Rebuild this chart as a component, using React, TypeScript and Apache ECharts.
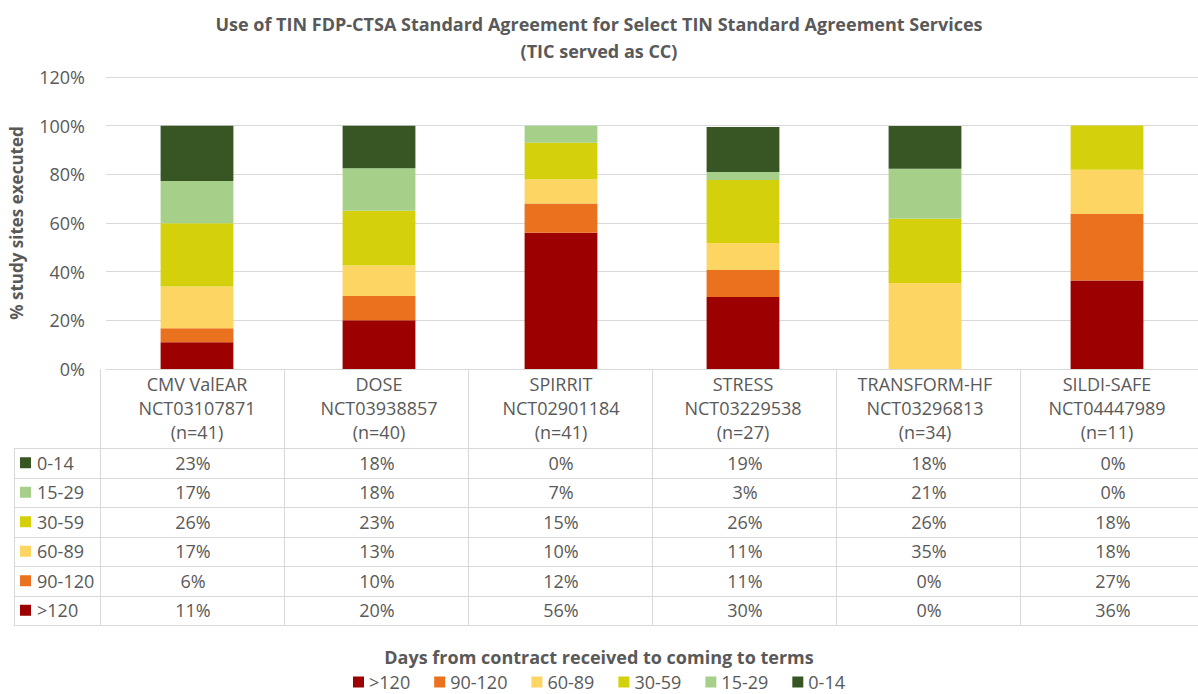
import React, { useEffect, useRef } from "react";
import * as echarts from "echarts";

const categories = ["CMV ValEAR", "DOSE", "SPIRRIT", "STRESS", "TRANSFORM-HF", "SILDI-SAFE"];
const nctIds = ["NCT03107871", "NCT03938857", "NCT02901184", "NCT03229538", "NCT03296813", "NCT04447989"];
const sampleSizes = [41, 40, 41, 27, 34, 11];

const bucketNames = [">120", "90-120", "60-89", "30-59", "15-29", "0-14"];
const bucketColors = ["#9C0000", "#EA711E", "#FDD562", "#D4D00B", "#A6D08A", "#375623"];

const over120 = [11, 20, 56, 29.6, 0, 36.4];
const d90to120 = [5.7, 10, 12, 11.1, 0, 27.3];
const d60to89 = [17.2, 12.5, 10, 11.1, 35.3, 18.2];
const d30to59 = [26, 22.5, 15, 25.9, 26.4, 18.2];
const d15to29 = [17.4, 17.5, 7, 3.3, 20.6, 0];
const d0to14 = [22.7, 17.5, 0, 18.5, 17.6, 0];

const seriesValues = [over120, d90to120, d60to89, d30to59, d15to29, d0to14];

const yTicks = [0, 20, 40, 60, 80, 100, 120];

const chartTitle = "Use of TIN FDP-CTSA Standard Agreement for Select TIN Standard Agreement Services\n(TIC served as CC)";
const yAxisTitle = "% study sites executed";
const legendTitle = "Days from contract received to coming to terms";

const W = 1198;
const H = 694;
const FONT = "Open Sans";
const TEXT = "#595959";
const LINE = "#D9D9D9";
const FS = 18;

export default function App() {
  const ref = useRef<HTMLDivElement>(null);
  useEffect(() => {
    if (!ref.current) return;
    const chart = echarts.init(ref.current, undefined, { renderer: "svg" });
    const gridLeft = 101;
    const gridRight = -7;
    const gridTop = 77;
    const gridBottomY = 369;
    const colW = (W - gridLeft - gridRight) / categories.length;
    const headerBottom = 448;
    const rowH = 29.5;
    const tableLeft = 14;

    const graphics: any[] = [];
    for (let i = 0; i < categories.length; i++) {
      const x = Math.round(gridLeft + i * colW) - 0.5;
      graphics.push({
        type: "line",
        shape: { x1: x, y1: gridBottomY, x2: x, y2: headerBottom + rowH * bucketNames.length },
        style: { stroke: LINE, lineWidth: 1 },
      });
    }
    graphics.push({
      type: "line",
      shape: { x1: tableLeft + 0.5, y1: headerBottom, x2: tableLeft + 0.5, y2: headerBottom + rowH * bucketNames.length },
      style: { stroke: LINE, lineWidth: 1 },
    });
    for (let k = 0; k <= bucketNames.length; k++) {
      const y = Math.round(headerBottom + k * rowH) + 0.5;
      graphics.push({
        type: "line",
        shape: { x1: tableLeft, y1: y, x2: W, y2: y },
        style: { stroke: LINE, lineWidth: 1 },
      });
    }
    const rowOrder = bucketNames.map((_, i) => bucketNames.length - 1 - i);
    rowOrder.forEach((si, r) => {
      const cy = headerBottom + r * rowH + rowH / 2;
      graphics.push({
        type: "rect",
        shape: { x: 20, y: cy - 5.5, width: 11, height: 11 },
        style: { fill: bucketColors[si] },
      });
      graphics.push({
        type: "text",
        x: 37,
        y: cy,
        style: { text: bucketNames[si], fill: TEXT, font: `${FS}px "${FONT}"`, verticalAlign: "middle" },
      });
      seriesValues[si].forEach((v, ci) => {
        graphics.push({
          type: "text",
          x: gridLeft + ci * colW + colW / 2,
          y: cy,
          style: {
            text: Math.round(v) + "%",
            fill: TEXT,
            font: `${FS}px "${FONT}"`,
            align: "center",
            verticalAlign: "middle",
          },
        });
      });
    });

    chart.setOption({
      animation: false,
      textStyle: { fontFamily: FONT },
      title: [
        {
          text: chartTitle,
          left: "center",
          top: 5,
          textStyle: { fontSize: 18, fontWeight: "bold", color: TEXT, lineHeight: 27, fontFamily: FONT },
        },
        {
          text: legendTitle,
          left: "center",
          top: 643,
          textStyle: { fontSize: 18, fontWeight: "bold", color: TEXT, fontFamily: FONT },
        },
      ],
      legend: {
        data: bucketNames,
        top: 673,
        left: "center",
        padding: 0,
        icon: "rect",
        itemWidth: 11,
        itemHeight: 11,
        itemGap: 24,
        textStyle: { fontSize: FS, lineHeight: 18, color: TEXT, fontFamily: FONT },
      },
      grid: { left: gridLeft, right: gridRight, top: gridTop, bottom: H - gridBottomY, containLabel: false },
      xAxis: {
        type: "category",
        data: categories,
        axisTick: { show: false },
        axisLine: { lineStyle: { color: LINE } },
        axisLabel: {
          interval: 0,
          margin: 3,
          color: TEXT,
          fontSize: FS,
          lineHeight: 24,
          fontFamily: FONT,
          formatter: (val: string, idx: number) => `${val}\n${nctIds[idx]}\n(n=${sampleSizes[idx]})`,
        },
      },
      yAxis: {
        type: "value",
        min: yTicks[0],
        max: yTicks[yTicks.length - 1],
        interval: 20,
        name: yAxisTitle,
        nameLocation: "middle",
        nameGap: 81,
        nameRotate: 90,
        nameTextStyle: { fontSize: 17, fontWeight: "bold", color: TEXT, fontFamily: FONT },
        axisLine: { show: false },
        axisTick: { show: false },
        axisLabel: { formatter: "{value}%", color: TEXT, fontSize: FS, margin: 21, fontFamily: FONT },
        splitLine: { lineStyle: { color: LINE } },
      },
      series: bucketNames.map((name, i) => ({
        name,
        type: "bar",
        stack: "total",
        barWidth: "40%",
        data: seriesValues[i],
        itemStyle: { color: bucketColors[i] },
      })),
      graphic: graphics,
    });
    return () => chart.dispose();
  }, []);
  return <div ref={ref} style={{ position: "absolute", left: 0, top: 0, width: W, height: H }} />;
}
